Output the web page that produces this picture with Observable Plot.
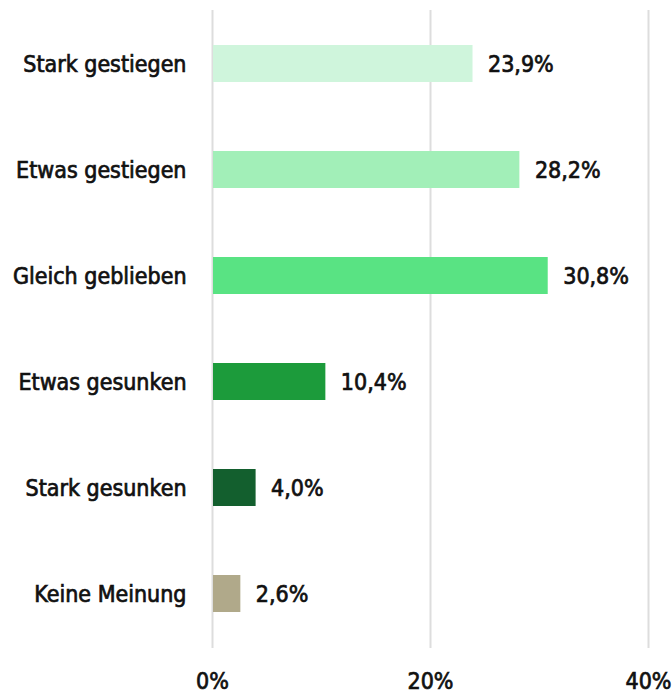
<!DOCTYPE html>
<html>
<head>
<meta charset="utf-8">
<script src="https://cdn.jsdelivr.net/npm/d3@7"></script>
<script src="https://cdn.jsdelivr.net/npm/@observablehq/plot@0.6"></script>
<style>
  html, body { margin: 0; padding: 0; background: #fff; }
  svg { font-family: "DejaVu Sans Condensed", "DejaVu Sans", sans-serif; font-stretch: condensed; overflow: visible; }
  svg text { stroke: #111; stroke-width: 0.7px; paint-order: stroke; }
</style>
</head>
<body>
<div id="chart"></div>
<script>
const categories = ["Stark gestiegen", "Etwas gestiegen", "Gleich geblieben", "Etwas gesunken", "Stark gesunken", "Keine Meinung"];
const values = [23.9, 28.2, 30.8, 10.4, 4.0, 2.6];
const colors = ["#cff5dc", "#a2efb8", "#59e383", "#1c9b3b", "#135f2e", "#b0a98a"];
const xTicks = [0, 20, 40];

const data = categories.map((c, i) => ({category: c, value: values[i], color: colors[i]}));
const fmt = v => v.toFixed(1).replace(".", ",") + "%";

const chart = Plot.plot({
  width: 672,
  height: 695,
  marginLeft: 212,
  marginRight: 24,
  marginTop: 10,
  marginBottom: 47,
  style: {fontSize: "23px", color: "#111", background: "#fff"},
  x: {domain: [0, 40], ticks: xTicks, tickFormat: d => d + "%", label: null, tickSize: 0, tickPadding: 24},
  y: {domain: categories, paddingInner: 0.647, paddingOuter: 0.3235, label: null, tickSize: 0, tickPadding: 26},
  marks: [
    Plot.ruleX(xTicks, {stroke: "#dddddd", strokeWidth: 2}),
    Plot.barX(data, {x: "value", y: "category", fill: "color", insetLeft: 1}),
    Plot.text(data, {x: "value", y: "category", text: d => fmt(d.value), textAnchor: "start", dx: 15, dy: 1, fill: "#111", fontSize: 23}),
    Plot.axisY({tickSize: 0, tickPadding: 26, fontSize: 23, dy: 1}),
    Plot.axisX({ticks: xTicks, tickFormat: d => d + "%", tickSize: 0, tickPadding: 24, fontSize: 23})
  ]
});
document.getElementById("chart").appendChild(chart);
</script>
</body>
</html>
